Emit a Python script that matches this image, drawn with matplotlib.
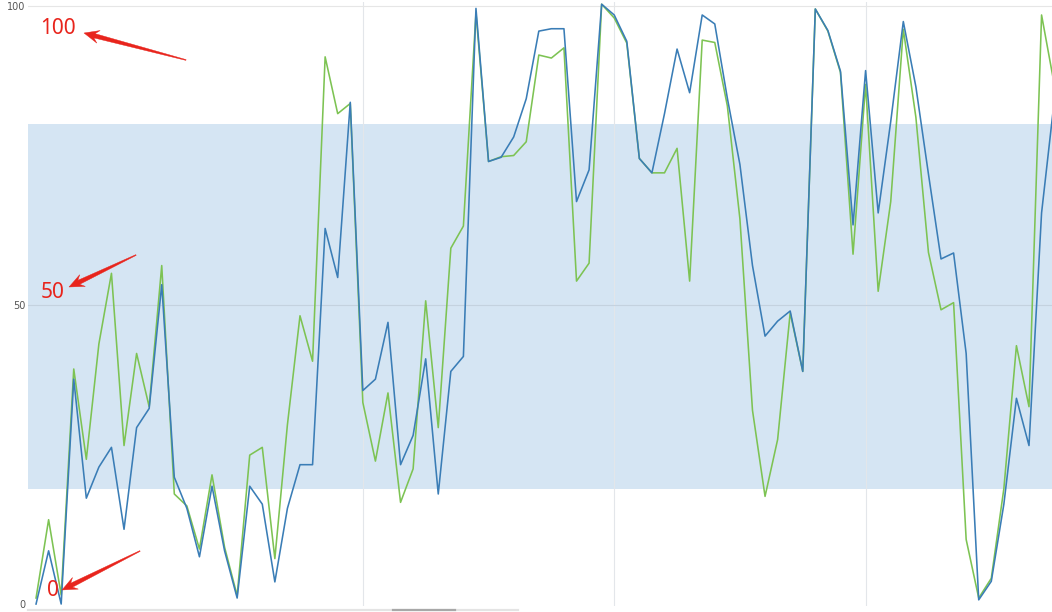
import matplotlib
matplotlib.use("Agg")
import matplotlib.pyplot as plt
from matplotlib.patches import Polygon
from matplotlib.transforms import IdentityTransform
import numpy as np

# ---------------- data ----------------
blue_values = [0, 8.9, 0, 37.6, 17.7, 22.9, 26.2, 12.5, 29.5, 32.7,
               53.4, 21.2, 16.0, 7.9, 19.7, 8.9, 1.0, 19.7, 16.7, 3.7,
               16.0, 23.3, 23.3, 62.8, 54.6, 83.9, 35.7, 37.6, 47.1, 23.3,
               28.2, 41.0, 18.4, 38.9, 41.4, 99.6, 74.0, 74.7, 78.1, 84.5,
               95.8, 96.2, 96.2, 67.3, 72.6, 100.3, 98.5, 94.1, 74.5, 72.1,
               82.0, 92.8, 85.5, 98.5, 97.0, 84.6, 73.5, 56.6, 44.8, 47.3,
               49.0, 38.9, 99.5, 95.9, 89.1, 63.4, 89.2, 65.4, 80.7, 97.4,
               86.5, 71.9, 57.7, 58.7, 41.9, 0.7, 3.8, 16.7, 34.4, 26.5,
               65.4, 84.0]
green_values = [1.0, 14.1, 1.5, 39.3, 24.2, 43.5, 55.3, 26.5, 41.9, 33.0,
                56.6, 18.4, 16.4, 9.2, 21.6, 9.5, 1.4, 24.9, 26.2, 7.6,
                30.0, 48.2, 40.6, 91.5, 82.0, 83.7, 33.7, 23.9, 35.3, 17.0,
                22.6, 50.7, 29.5, 59.5, 63.2, 98.8, 74.0, 74.8, 75.0, 77.3,
                91.8, 91.3, 93.0, 54.0, 57.0, 100.3, 98.0, 93.8, 74.5, 72.1,
                72.1, 76.2, 54.0, 94.3, 93.9, 83.3, 64.4, 32.4, 18.0, 27.5,
                48.7, 38.9, 99.5, 95.8, 88.9, 58.5, 86.9, 52.3, 67.3, 96.1,
                81.4, 58.8, 49.2, 50.4, 10.8, 1.0, 4.3, 19.3, 43.2, 33.0,
                98.5, 87.0]
band_range = [19.3, 80.2]
y_ticks = [0, 50, 100]
y_tick_labels = ["0", "50", "100"]
x_grid_positions = [26, 46, 66]
annotation_labels = ["100", "50", "0"]

# ---------------- figure ----------------
W, H = 1052, 612
fig = plt.figure(figsize=(W / 100, H / 100), dpi=100)
ax_left, ax_right = 28, 1052
ax_top, ax_bottom = 2, 606
ax = fig.add_axes([ax_left / W, (H - ax_bottom) / H,
                   (ax_right - ax_left) / W, (ax_bottom - ax_top) / H])

x = np.arange(len(blue_values))
ax.set_xlim(-0.64, 80.83)
ax.set_ylim(-0.33, 100.67)

ax.axhspan(band_range[0], band_range[1], color="#d5e5f3", zorder=0, lw=0)
for gx in x_grid_positions:
    ax.axvline(gx, color="#e3e6ea", lw=0.8, zorder=1)
ax.axhline(50, color="#c4d2df", lw=0.8, zorder=1)
ax.axhline(100, color="#e6e6e6", lw=0.8, zorder=1)

ax.plot(x, green_values, color="#7dc353", lw=1.15, zorder=3)
ax.plot(x, blue_values, color="#3a7db6", lw=1.15, zorder=4)

for s in ax.spines.values():
    s.set_visible(False)
ax.set_xticks([])
ax.set_yticks(y_ticks)
ax.set_yticklabels(y_tick_labels, fontsize=7, color="#555555")
ax.tick_params(axis="y", length=0, pad=2)

# scrollbar-like strip at bottom
fig.add_artist(plt.Line2D([28 / W, 518 / W], [(H - 610) / H] * 2,
                          color="#e4e4e4", lw=1.6, transform=fig.transFigure))
fig.add_artist(plt.Line2D([393 / W, 455 / W], [(H - 610) / H] * 2,
                          color="#a8a8a8", lw=1.6, transform=fig.transFigure))

# ---------------- red annotations ----------------
RED = "#e8241c"


def tapered_arrow(tail, head, hl=15, hw=6.5, w0=0.4, w1=2.2):
    tx, ty = tail[0], H - tail[1]
    hx, hy = head[0], H - head[1]
    d = np.array([hx - tx, hy - ty], float)
    L = np.hypot(*d)
    u = d / L
    n = np.array([-u[1], u[0]])
    T = np.array([tx, ty])
    Hh = np.array([hx, hy])
    B = Hh - u * hl
    Bn = Hh - u * hl * 0.72
    pts = [T + n * w0, Bn + n * w1, B + n * hw, Hh,
           B - n * hw, Bn - n * w1, T - n * w0]
    fig.add_artist(Polygon(pts, closed=True, facecolor=RED, edgecolor=RED,
                           lw=0.3, transform=IdentityTransform()))


tapered_arrow((186, 60), (84, 33))
tapered_arrow((136, 255), (69, 287))
tapered_arrow((140, 551), (62, 590))

label_pos = [(58, 28), (53, 293), (53, 591)]
for lab, (px, py) in zip(annotation_labels, label_pos):
    fig.text(px / W, (H - py) / H, lab, color=RED, fontsize=15,
             family="Noto Sans", ha="center", va="center")

fig.savefig("out.png", dpi=100)
